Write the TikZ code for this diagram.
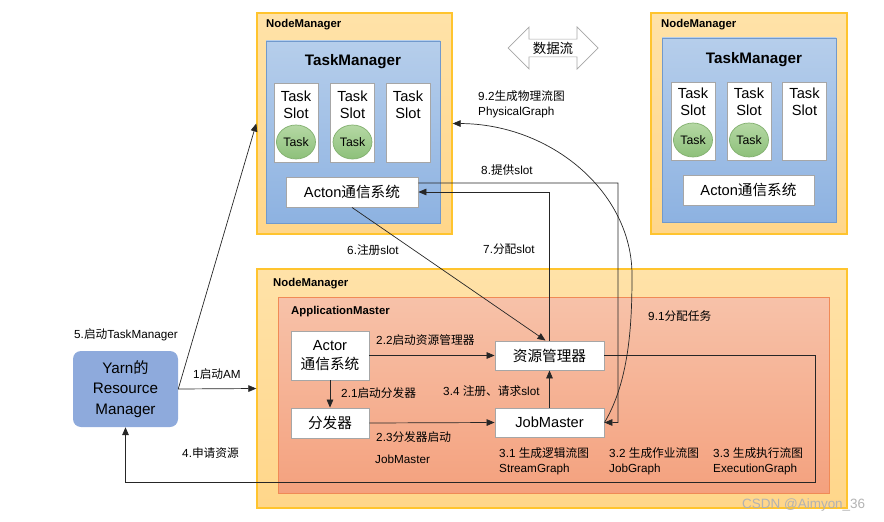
\documentclass[tikz,border=0pt]{standalone}
\usepackage{fontspec}
\setmainfont{Liberation Sans}
\newfontfamily\cjk{Noto Sans CJK SC}
\usetikzlibrary{shapes.geometric,shapes.arrows,arrows.meta}
\definecolor{nmTop}{HTML}{FFE2A8}
\definecolor{nmBottom}{HTML}{FFD68A}
\definecolor{nmLine}{HTML}{FFC42E}
\definecolor{tmTop}{HTML}{B6CEEB}
\definecolor{tmBottom}{HTML}{8DB2E1}
\definecolor{tmLine}{HTML}{7199CC}
\definecolor{amTop}{HTML}{F7C2A9}
\definecolor{amBottom}{HTML}{F4A17E}
\definecolor{amLine}{HTML}{F08A56}
\definecolor{rmFill}{HTML}{8EAADC}
\definecolor{taskTop}{HTML}{B5D8A4}
\definecolor{taskBottom}{HTML}{8DC07A}
\definecolor{taskLine}{HTML}{82B06F}
\definecolor{boxLine}{HTML}{A6A6A6}
\newcommand{\zh}[1]{{\cjk #1}}

\begin{document}
\begin{tikzpicture}[x=0.3mm, y=-0.3mm,
		wh/.style 2 args={minimum width=#1*0.3mm, minimum height=#2*0.3mm},
		nodemgr/.style={draw=nmLine, line width=1.2pt, top color=nmTop, bottom color=nmBottom, inner sep=0pt},
		taskmgr/.style={draw=tmLine, line width=0.8pt, top color=tmTop, bottom color=tmBottom, inner sep=0pt},
		appmaster/.style={draw=amLine, line width=0.8pt, top color=amTop, bottom color=amBottom, inner sep=0pt},
		box/.style={draw=boxLine, line width=0.8pt, fill=white, inner sep=0pt, align=center, font=\fontsize{12.5}{15.5}\selectfont},
		slotbox/.style={draw=boxLine, line width=0.8pt, fill=white, inner sep=0pt, wh={44}{79}},
		slottext/.style={align=center, inner sep=0pt, font=\fontsize{12.5}{14.5}\selectfont},
		taskcirc/.style={ellipse, draw=taskLine, line width=0.6pt, top color=taskTop, bottom color=taskBottom, inner sep=0pt, wh={39}{34}, font=\fontsize{10.5}{12}\selectfont},
		title/.style={inner sep=0pt, font=\bfseries\fontsize{13}{15}\selectfont},
		tag/.style={anchor=west, inner sep=0pt, font=\bfseries\fontsize{9.7}{11}\selectfont},
		lbl/.style={anchor=west, inner sep=0pt, align=left, font=\fontsize{10}{12.75}\selectfont},
		conn/.style={-{Triangle[length=2.4mm,width=2mm]}, line width=0.6pt, draw=black!85}]
	\useasboundingbox (0,0) rectangle (884,522);

	\node[nodemgr, wh={195}{221}] (NodeMgrA) at (354.5,123.5) {};
	\node[tag] at (266,25) {NodeManager};
	\node[taskmgr, wh={174}{182}] (TaskMgrA) at (353,132) {};
	\node[title] at (353,62) {TaskManager};
	\node[slotbox] (SlotA1) at (296,122.5) {};
	\node[slotbox] (SlotA2) at (352.5,122.5) {};
	\node[slotbox] (SlotA3) at (408,122.5) {};
	\node[slottext] at (296,104.5) {Task\\Slot};
	\node[slottext] at (352.5,104.5) {Task\\Slot};
	\node[slottext] at (408,104.5) {Task\\Slot};
	\node[taskcirc] (TaskA1) at (296,142) {Task};
	\node[taskcirc] (TaskA2) at (352.5,142) {Task};
	\node[box, wh={132}{30}] (ActonA) at (352,192) {Acton\zh{通信系统}};

	\node[nodemgr, wh={196}{221}] (NodeMgrB) at (749,123.5) {};
	\node[tag] at (661,25) {NodeManager};
	\node[taskmgr, wh={174}{184}] (TaskMgrB) at (749,130) {};
	\node[title] at (754,60) {TaskManager};
	\node[slotbox, wh={44}{78}] (SlotB1) at (693,121) {};
	\node[slotbox, wh={44}{78}] (SlotB2) at (749,121) {};
	\node[slotbox, wh={44}{78}] (SlotB3) at (804.5,121) {};
	\node[slottext] at (693,102) {Task\\Slot};
	\node[slottext] at (749,102) {Task\\Slot};
	\node[slottext] at (804.5,102) {Task\\Slot};
	\node[taskcirc] (TaskB1) at (693,140) {Task};
	\node[taskcirc] (TaskB2) at (749,140) {Task};
	\node[box, wh={131}{30}] (ActonB) at (748.5,190) {Acton\zh{通信系统}};

	\node[double arrow, draw=boxLine, line width=0.6pt, fill=white, inner sep=0pt, wh={42}{90}, double arrow head extend=2.7mm, font=\fontsize{11.5}{13}\selectfont] (DataFlow) at (553,48) {\zh{数据流}};

	\node[nodemgr, wh={590}{239}] (NodeMgrC) at (552,388.5) {};
	\node[tag] at (273,284) {NodeManager};
	\node[appmaster, wh={551}{196}] (AppMaster) at (553.5,395) {};
	\node[tag] at (291,312) {ApplicationMaster};
	\node[box, wh={78}{49}] (Actor) at (330,355.5) {Actor\\\zh{通信系统}};
	\node[box, wh={78}{30}] (Dispatcher) at (330,423) {\zh{分发器}};
	\node[box, wh={109}{29}] (ZiYuan) at (549.5,355.5) {\zh{资源管理器}};
	\node[box, wh={109}{29}] (JobMaster) at (549.5,422.5) {JobMaster};

	\node[fill=rmFill, rounded corners=2.4mm, inner sep=0pt, wh={105}{76}, align=center, font=\fontsize{13}{17.4}\selectfont] (RM) at (125.5,389) {Yarn\zh{的}\\Resource\\Manager};

	\coordinate (ReqTurn) at (815,482);
	\coordinate (SlotTurn) at (618,183);
	\coordinate (PhysTurn) at (632,275);

	\draw[conn] (RM.east) -- (NodeMgrC.west);
	\draw[conn] (RM.east) -- (NodeMgrA.west);
	\draw[conn] (Actor.south) -- (Dispatcher.north);
	\draw[conn] (Actor.east) -- (ZiYuan.west);
	\draw[conn] (Dispatcher.east) -- (JobMaster.west);
	\draw[conn] (JobMaster.north) -- (ZiYuan.south);
	\draw[conn] (ZiYuan.east) -| (ReqTurn) -| (RM.south);
	\draw[conn] (ActonA.south) -- ([xshift=-1.2mm]ZiYuan.north);
	\draw[conn] (ZiYuan.north) |- (ActonA.east);
	\draw[conn] ([yshift=2.7mm]ActonA.east) -- (SlotTurn) |- (JobMaster.east);
	\draw[conn] (JobMaster.east) .. controls (630,380) and (632,320) .. (PhysTurn) .. controls (632,192) and (551,124) .. (NodeMgrA.east);

	\node[lbl] at (74,335) {5.\zh{启动}TaskManager};
	\node[lbl] at (193,374) {1\zh{启动}AM};
	\node[lbl] at (182,453) {4.\zh{申请资源}};
	\node[lbl] at (376,340) {2.2\zh{启动资源管理器}};
	\node[lbl] at (341,393) {2.1\zh{启动分发器}};
	\node[lbl] at (376,437) {2.3\zh{分发器启动}};
	\node[lbl] at (375,459) {JobMaster};
	\node[lbl] at (443,391) {3.4 \zh{注册、请求}slot};
	\node[lbl] at (347,250) {6.\zh{注册}slot};
	\node[lbl] at (483,249) {7.\zh{分配}slot};
	\node[lbl] at (481,170) {8.\zh{提供}slot};
	\node[lbl] at (478,104) {9.2\zh{生成物理流图}\\PhysicalGraph};
	\node[lbl] at (648,316) {9.1\zh{分配任务}};
	\node[lbl] at (499,461.5) {3.1 \zh{生成逻辑流图}\\StreamGraph};
	\node[lbl] at (609,461.5) {3.2 \zh{生成作业流图}\\JobGraph};
	\node[lbl] at (713,461.5) {3.3 \zh{生成执行流图}\\ExecutionGraph};
	\node[anchor=west, inner sep=0pt, text=black!30, font=\fontsize{11.5}{13}\selectfont] at (742,505) {CSDN @Aimyon\_36};
\end{tikzpicture}
\end{document}
